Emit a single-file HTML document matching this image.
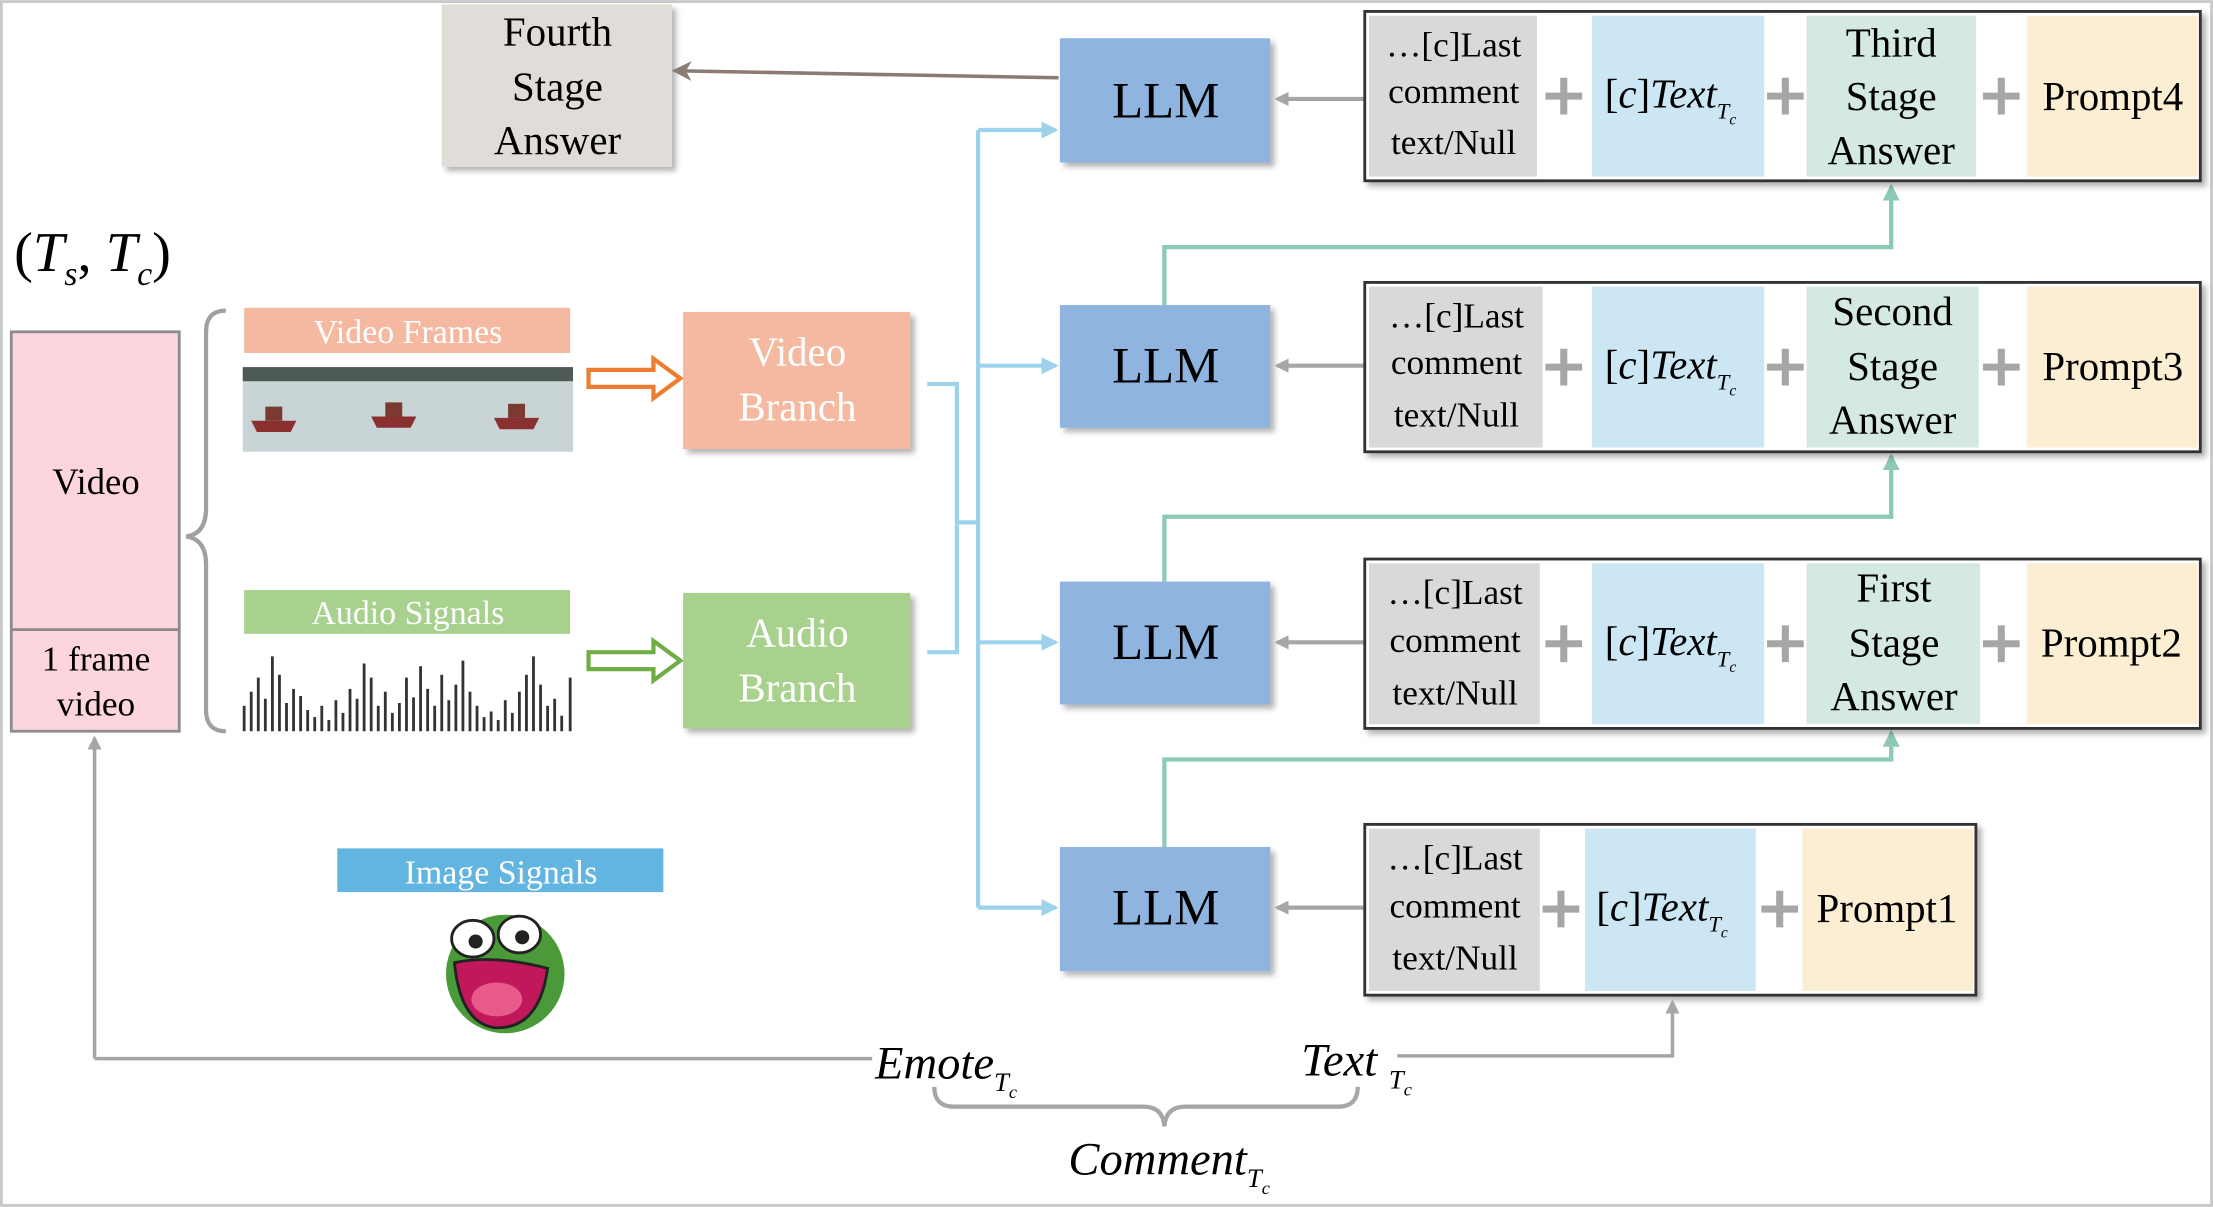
<!DOCTYPE html>
<html><head><meta charset="utf-8"><style>
html,body{margin:0;padding:0;background:#fff;}
svg{display:block;}
text{font-family:"Liberation Serif",serif;}
</style></head><body>
<svg width="2213" height="1207" viewBox="0 0 1568 855" xmlns="http://www.w3.org/2000/svg">
<defs>
<marker id="ag" markerWidth="10" markerHeight="10" refX="8" refY="5" orient="auto" markerUnits="userSpaceOnUse"><path d="M0,0 L10,5 L0,10 Z" fill="#a6a6a6"/></marker>
<marker id="ab" markerWidth="12" markerHeight="12" refX="10" refY="6" orient="auto" markerUnits="userSpaceOnUse"><path d="M0,0 L12,6 L0,12 Z" fill="#9dd3ea"/></marker>
<marker id="at" markerWidth="12" markerHeight="12" refX="10" refY="6" orient="auto" markerUnits="userSpaceOnUse"><path d="M0,0 L12,6 L0,12 Z" fill="#8cc9b6"/></marker>
<marker id="abr" markerWidth="14" markerHeight="14" refX="12" refY="7" orient="auto" markerUnits="userSpaceOnUse"><path d="M0,0 L14,7 L0,14 L4,7 Z" fill="#8c7b73"/></marker>
<filter id="sh" x="-10%" y="-10%" width="130%" height="130%"><feDropShadow dx="3" dy="3" stdDeviation="2" flood-color="#000" flood-opacity="0.3"/></filter>
<path id="pl" d="M-13,0 L13,0 M0,-13 L0,13" stroke="#a6a6a6" stroke-width="5"/>
</defs>
<rect x="1" y="1" width="1566" height="853" fill="#fff" stroke="#c8c8c8" stroke-width="2"/>

<rect x="313" y="3" width="163" height="115" fill="#e0dcd8" filter="url(#sh)"/>
<text x="395" y="32" font-size="29" text-anchor="middle">Fourth</text>
<text x="395" y="71" font-size="29" text-anchor="middle">Stage</text>
<text x="395" y="109" font-size="29" text-anchor="middle">Answer</text>
<line x1="750" y1="55" x2="478" y2="50" stroke="#8c7b73" stroke-width="2.5" marker-end="url(#abr)"/>

<text x="10" y="192" font-size="40">(<tspan font-style="italic">T</tspan><tspan font-size="24" dy="10" font-style="italic">s</tspan><tspan dy="-10">, </tspan><tspan font-style="italic">T</tspan><tspan font-size="24" dy="10" font-style="italic">c</tspan><tspan dy="-10">)</tspan></text>

<rect x="8" y="235" width="119" height="283" fill="#fcd5de" stroke="#8c8c8c" stroke-width="2"/>
<line x1="8" y1="446" x2="127" y2="446" stroke="#8c8c8c" stroke-width="2"/>
<text x="68" y="350" font-size="26" text-anchor="middle">Video</text>
<text x="68" y="475" font-size="25" text-anchor="middle">1 frame</text>
<text x="68" y="507" font-size="25" text-anchor="middle">video</text>
<path d="M160,220 Q146,220 146,235 L146,360 Q146,378 132,380 Q146,382 146,400 L146,503 Q146,518 160,518" fill="none" stroke="#a0a0a0" stroke-width="3"/>

<rect x="173" y="218" width="231" height="32" fill="#f4b9a0"/>
<text x="289" y="243" font-size="24" fill="#fff" text-anchor="middle">Video Frames</text>
<g>
<rect x="172" y="260" width="234" height="60" fill="#c9d4d6"/>
<rect x="172" y="260" width="234" height="10" fill="#4e5a55"/>
<path d="M178,298 L210,298 L206,306 L182,306 Z" fill="#8a3030"/><rect x="188" y="288" width="12" height="10" fill="#7a3a30"/>
<path d="M263,295 L295,295 L291,303 L267,303 Z" fill="#8a3030"/><rect x="273" y="285" width="12" height="10" fill="#7a3a30"/>
<path d="M350,296 L382,296 L378,304 L354,304 Z" fill="#8a3030"/><rect x="360" y="286" width="12" height="10" fill="#7a3a30"/>
</g>
<path d="M417,262 L463,262 L463,254 L482,268 L463,282 L463,274 L417,274 Z" fill="#fff" stroke="#ed7d31" stroke-width="3"/>

<rect x="173" y="418" width="231" height="31" fill="#a9d18e"/>
<text x="289" y="442" font-size="24" fill="#fff" text-anchor="middle">Audio Signals</text>
<g stroke="#333" stroke-width="2">
<line x1="173" y1="518" x2="173" y2="500"/><line x1="178" y1="518" x2="178" y2="490"/><line x1="183" y1="518" x2="183" y2="480"/><line x1="188" y1="518" x2="188" y2="495"/><line x1="193" y1="518" x2="193" y2="465"/><line x1="198" y1="518" x2="198" y2="478"/><line x1="203" y1="518" x2="203" y2="498"/><line x1="208" y1="518" x2="208" y2="488"/><line x1="213" y1="518" x2="213" y2="493"/><line x1="218" y1="518" x2="218" y2="503"/><line x1="223" y1="518" x2="223" y2="508"/><line x1="228" y1="518" x2="228" y2="500"/><line x1="233" y1="518" x2="233" y2="510"/><line x1="238" y1="518" x2="238" y2="496"/><line x1="243" y1="518" x2="243" y2="505"/><line x1="248" y1="518" x2="248" y2="488"/><line x1="253" y1="518" x2="253" y2="495"/><line x1="258" y1="518" x2="258" y2="470"/><line x1="263" y1="518" x2="263" y2="480"/><line x1="268" y1="518" x2="268" y2="500"/><line x1="273" y1="518" x2="273" y2="490"/><line x1="278" y1="518" x2="278" y2="505"/><line x1="283" y1="518" x2="283" y2="498"/><line x1="288" y1="518" x2="288" y2="480"/><line x1="293" y1="518" x2="293" y2="494"/><line x1="298" y1="518" x2="298" y2="472"/><line x1="303" y1="518" x2="303" y2="488"/><line x1="308" y1="518" x2="308" y2="500"/><line x1="313" y1="518" x2="313" y2="478"/><line x1="318" y1="518" x2="318" y2="496"/><line x1="323" y1="518" x2="323" y2="485"/><line x1="328" y1="518" x2="328" y2="468"/><line x1="333" y1="518" x2="333" y2="490"/><line x1="338" y1="518" x2="338" y2="500"/><line x1="343" y1="518" x2="343" y2="508"/><line x1="348" y1="518" x2="348" y2="504"/><line x1="353" y1="518" x2="353" y2="510"/><line x1="358" y1="518" x2="358" y2="496"/><line x1="363" y1="518" x2="363" y2="505"/><line x1="368" y1="518" x2="368" y2="490"/><line x1="373" y1="518" x2="373" y2="478"/><line x1="378" y1="518" x2="378" y2="465"/><line x1="383" y1="518" x2="383" y2="485"/><line x1="388" y1="518" x2="388" y2="500"/><line x1="393" y1="518" x2="393" y2="495"/><line x1="398" y1="518" x2="398" y2="507"/><line x1="404" y1="518" x2="404" y2="480"/>
</g>
<path d="M417,462 L463,462 L463,454 L482,468 L463,482 L463,474 L417,474 Z" fill="#fff" stroke="#70ad47" stroke-width="3"/>

<rect x="484" y="221" width="161" height="97" fill="#f4b9a0" filter="url(#sh)"/>
<text x="565" y="259" font-size="29" fill="#fff" text-anchor="middle">Video</text>
<text x="565" y="298" font-size="29" fill="#fff" text-anchor="middle">Branch</text>
<rect x="484" y="420" width="161" height="96" fill="#a9d18e" filter="url(#sh)"/>
<text x="565" y="458" font-size="29" fill="#fff" text-anchor="middle">Audio</text>
<text x="565" y="497" font-size="29" fill="#fff" text-anchor="middle">Branch</text>

<g fill="none" stroke="#9dd3ea" stroke-width="3">
<path d="M657,272 L678,272 L678,462 L657,462"/>
<path d="M678,370 L693,370"/>
<path d="M693,92 L693,643"/>
<path d="M693,92 L748,92" marker-end="url(#ab)"/>
<path d="M693,259 L748,259" marker-end="url(#ab)"/>
<path d="M693,455 L748,455" marker-end="url(#ab)"/>
<path d="M693,643 L748,643" marker-end="url(#ab)"/>
</g>

<g font-size="36" text-anchor="middle">
<rect x="751" y="27" width="149" height="88" fill="#8fb4e0" filter="url(#sh)"/><text x="826" y="83">LLM</text>
<rect x="751" y="216" width="149" height="87" fill="#8fb4e0" filter="url(#sh)"/><text x="826" y="271">LLM</text>
<rect x="751" y="412" width="149" height="87" fill="#8fb4e0" filter="url(#sh)"/><text x="826" y="467">LLM</text>
<rect x="751" y="600" width="149" height="88" fill="#8fb4e0" filter="url(#sh)"/><text x="826" y="655">LLM</text>
</g>

<g fill="none" stroke="#8cc9b6" stroke-width="3">
<path d="M825,216 L825,175 L1340,175 L1340,132" marker-end="url(#at)"/>
<path d="M825,412 L825,366 L1340,366 L1340,323" marker-end="url(#at)"/>
<path d="M825,600 L825,538 L1340,538 L1340,519" marker-end="url(#at)"/>
</g>

<g stroke="#a6a6a6" stroke-width="3">
<line x1="967" y1="70" x2="905" y2="70" marker-end="url(#ag)"/>
<line x1="967" y1="259" x2="905" y2="259" marker-end="url(#ag)"/>
<line x1="967" y1="455" x2="905" y2="455" marker-end="url(#ag)"/>
<line x1="967" y1="643" x2="905" y2="643" marker-end="url(#ag)"/>
</g>

<g font-size="25">
<rect x="967" y="8" width="592" height="120" fill="#fff" stroke="#333" stroke-width="2" filter="url(#sh)"/>
<rect x="970" y="11" width="119" height="114" fill="#d9d9d9"/>
<rect x="1128" y="11" width="122" height="114" fill="#cde6f3"/>
<rect x="1280" y="11" width="120" height="114" fill="#d4e9df"/>
<rect x="1436" y="11" width="121" height="114" fill="#fbeed2"/>
<text x="1030" y="40" text-anchor="middle">…[c]Last</text><text x="1030" y="73" text-anchor="middle">comment</text><text x="1030" y="109" text-anchor="middle">text/Null</text>
<text x="1340" y="40" font-size="29" text-anchor="middle">Third</text><text x="1340" y="78" font-size="29" text-anchor="middle">Stage</text><text x="1340" y="116" font-size="29" text-anchor="middle">Answer</text>
<text x="1497" y="78" font-size="29" text-anchor="middle">Prompt4</text>
<text x="1137" y="76" font-size="29">[<tspan font-style="italic">c</tspan>]<tspan font-style="italic">Text</tspan><tspan font-size="16" dy="8" font-style="italic">T</tspan><tspan font-size="11" dy="4" font-style="italic">c</tspan></text>
<use href="#pl" x="1108" y="68"/><use href="#pl" x="1265" y="68"/><use href="#pl" x="1418" y="68"/>

<rect x="967" y="200" width="592" height="120" fill="#fff" stroke="#333" stroke-width="2" filter="url(#sh)"/>
<rect x="970" y="203" width="123" height="114" fill="#d9d9d9"/>
<rect x="1128" y="203" width="122" height="114" fill="#cde6f3"/>
<rect x="1280" y="203" width="122" height="114" fill="#d4e9df"/>
<rect x="1436" y="203" width="121" height="114" fill="#fbeed2"/>
<text x="1032" y="232" text-anchor="middle">…[c]Last</text><text x="1032" y="265" text-anchor="middle">comment</text><text x="1032" y="302" text-anchor="middle">text/Null</text>
<text x="1341" y="230" font-size="29" text-anchor="middle">Second</text><text x="1341" y="269" font-size="29" text-anchor="middle">Stage</text><text x="1341" y="307" font-size="29" text-anchor="middle">Answer</text>
<text x="1497" y="269" font-size="29" text-anchor="middle">Prompt3</text>
<text x="1137" y="268" font-size="29">[<tspan font-style="italic">c</tspan>]<tspan font-style="italic">Text</tspan><tspan font-size="16" dy="8" font-style="italic">T</tspan><tspan font-size="11" dy="4" font-style="italic">c</tspan></text>
<use href="#pl" x="1108" y="260"/><use href="#pl" x="1265" y="260"/><use href="#pl" x="1418" y="260"/>

<rect x="967" y="396" width="592" height="120" fill="#fff" stroke="#333" stroke-width="2" filter="url(#sh)"/>
<rect x="970" y="399" width="121" height="114" fill="#d9d9d9"/>
<rect x="1128" y="399" width="122" height="114" fill="#cde6f3"/>
<rect x="1280" y="399" width="123" height="114" fill="#d4e9df"/>
<rect x="1436" y="399" width="121" height="114" fill="#fbeed2"/>
<text x="1031" y="428" text-anchor="middle">…[c]Last</text><text x="1031" y="462" text-anchor="middle">comment</text><text x="1031" y="499" text-anchor="middle">text/Null</text>
<text x="1342" y="426" font-size="29" text-anchor="middle">First</text><text x="1342" y="465" font-size="29" text-anchor="middle">Stage</text><text x="1342" y="503" font-size="29" text-anchor="middle">Answer</text>
<text x="1496" y="465" font-size="29" text-anchor="middle">Prompt2</text>
<text x="1137" y="464" font-size="29">[<tspan font-style="italic">c</tspan>]<tspan font-style="italic">Text</tspan><tspan font-size="16" dy="8" font-style="italic">T</tspan><tspan font-size="11" dy="4" font-style="italic">c</tspan></text>
<use href="#pl" x="1108" y="456"/><use href="#pl" x="1265" y="456"/><use href="#pl" x="1418" y="456"/>

<rect x="967" y="584" width="433" height="121" fill="#fff" stroke="#333" stroke-width="2" filter="url(#sh)"/>
<rect x="970" y="587" width="121" height="115" fill="#d9d9d9"/>
<rect x="1123" y="587" width="121" height="115" fill="#cde6f3"/>
<rect x="1277" y="587" width="121" height="115" fill="#fbeed2"/>
<text x="1031" y="616" text-anchor="middle">…[c]Last</text><text x="1031" y="650" text-anchor="middle">comment</text><text x="1031" y="687" text-anchor="middle">text/Null</text>
<text x="1337" y="653" font-size="29" text-anchor="middle">Prompt1</text>
<text x="1131" y="652" font-size="29">[<tspan font-style="italic">c</tspan>]<tspan font-style="italic">Text</tspan><tspan font-size="16" dy="8" font-style="italic">T</tspan><tspan font-size="11" dy="4" font-style="italic">c</tspan></text>
<use href="#pl" x="1106" y="644"/><use href="#pl" x="1261" y="644"/>
</g>

<rect x="239" y="601" width="231" height="31" fill="#62b5e0"/>
<text x="355" y="626" font-size="24" fill="#fff" text-anchor="middle">Image Signals</text>
<g>
<ellipse cx="358" cy="690" rx="42" ry="42" fill="#4a9a3a"/>
<ellipse cx="335" cy="665" rx="15" ry="13" fill="#fff" stroke="#222" stroke-width="2"/>
<ellipse cx="368" cy="662" rx="15" ry="13" fill="#fff" stroke="#222" stroke-width="2"/>
<circle cx="337" cy="667" r="5" fill="#222"/><circle cx="370" cy="664" r="5" fill="#222"/>
<path d="M322,682 Q350,676 388,686 Q382,730 350,728 Q326,724 322,682 Z" fill="#c0185a" stroke="#222" stroke-width="2"/>
<ellipse cx="352" cy="708" rx="18" ry="12" fill="#e85a8a"/>
</g>

<g fill="none" stroke="#a6a6a6" stroke-width="2.5">
<path d="M67,750 L67,523" marker-end="url(#ag)"/>
<path d="M67,750 L618,750"/>
<path d="M990,748 L1185,748 L1185,710" marker-end="url(#ag)"/>
<path d="M662,770 Q662,784 676,784 L810,784 Q824,784 825,798 Q826,784 840,784 L948,784 Q962,784 962,770" stroke-width="3"/>
</g>
<text x="620" y="764" font-size="33" font-style="italic">Emote<tspan font-size="19" dy="9">T</tspan><tspan font-size="13" dy="5">c</tspan></text>
<text x="922" y="762" font-size="33" font-style="italic">Text <tspan font-size="19" dy="9">T</tspan><tspan font-size="13" dy="5">c</tspan></text>
<text x="757" y="832" font-size="33" font-style="italic">Comment<tspan font-size="19" dy="9">T</tspan><tspan font-size="13" dy="5">c</tspan></text>
</svg>
</body></html>
